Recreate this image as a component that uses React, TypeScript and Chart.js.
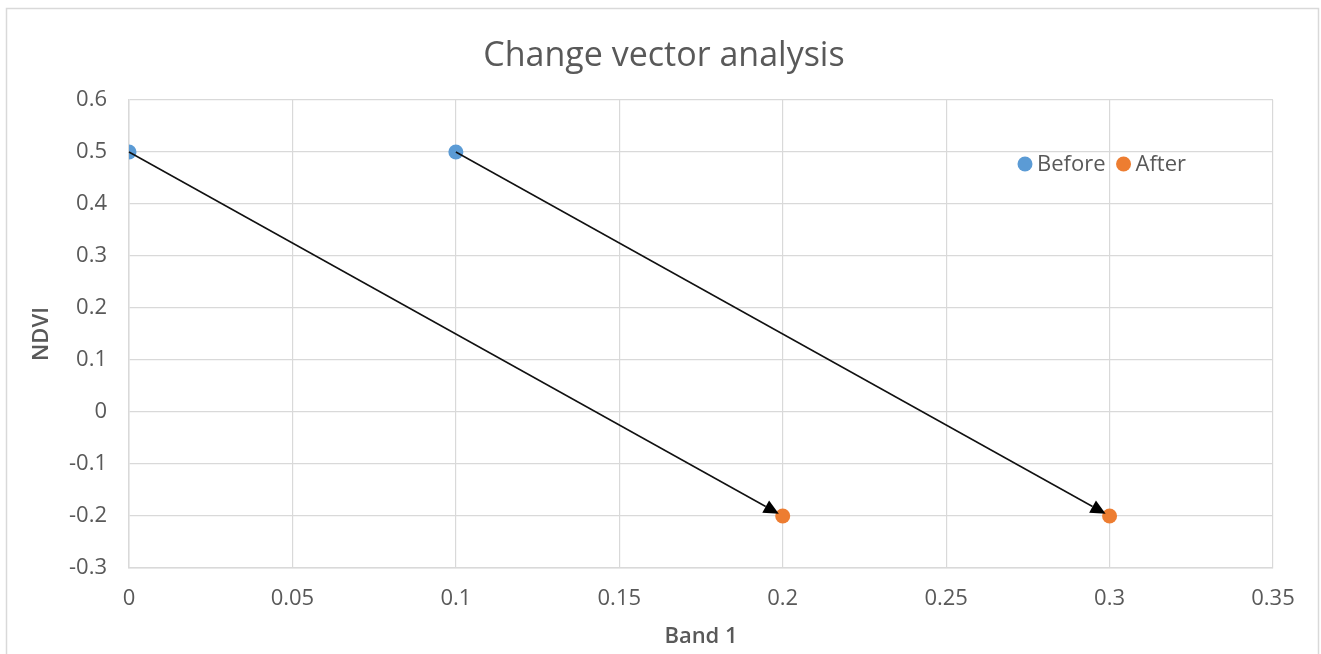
import React, { useEffect, useRef } from "react";
import { Chart, registerables } from "chart.js";

Chart.register(...registerables);

const chartTitle = "Change vector analysis";
const xAxisTitle = "Band 1";
const yAxisTitle = "NDVI";
const seriesNames = ["Before", "After"];
const seriesColors = ["#5b9bd5", "#ed7d31"];
const beforeX = [0, 0.1];
const beforeY = [0.5, 0.5];
const afterX = [0.2, 0.3];
const afterY = [-0.2, -0.2];
const xMin = 0;
const xMax = 0.35;
const xStep = 0.05;
const yMin = -0.3;
const yMax = 0.6;
const yStep = 0.1;

const FONT = "'Open Sans', 'Noto Sans', sans-serif";
const TEXT = "#595959";
const GRID = "#d9d9d9";

const fmt = (v: number) => String(Number(Number(v).toFixed(2)));

const decorPlugin = {
  id: "decor",
  beforeDraw(chart: any) {
    const ctx = chart.ctx;
    ctx.save();
    ctx.fillStyle = "#ffffff";
    ctx.fillRect(0, 0, chart.width, chart.height);
    ctx.strokeStyle = "#d9d9d9";
    ctx.lineWidth = 1.5;
    ctx.strokeRect(6.5, 8.5, 1312, 700);
    ctx.restore();
  },
  afterDatasetsDraw(chart: any) {
    const ctx = chart.ctx;
    const xs = chart.scales.x;
    const ys = chart.scales.y;
    ctx.save();
    for (let i = 0; i < beforeX.length; i++) {
      const x0 = xs.getPixelForValue(beforeX[i]);
      const y0 = ys.getPixelForValue(beforeY[i]);
      const x1 = xs.getPixelForValue(afterX[i]);
      const y1 = ys.getPixelForValue(afterY[i]);
      const dx = x1 - x0;
      const dy = y1 - y0;
      const len = Math.hypot(dx, dy);
      const ux = dx / len;
      const uy = dy / len;
      const tipX = x1 - ux * 4.5;
      const tipY = y1 - uy * 4.5;
      const head = 15;
      const half = 7;
      const bx = tipX - ux * head;
      const by = tipY - uy * head;
      ctx.strokeStyle = "#111111";
      ctx.lineWidth = 1.5;
      ctx.beginPath();
      ctx.moveTo(x0, y0);
      ctx.lineTo(bx, by);
      ctx.stroke();
      ctx.fillStyle = "#000000";
      ctx.beginPath();
      ctx.moveTo(tipX, tipY);
      ctx.lineTo(bx - uy * half, by + ux * half);
      ctx.lineTo(bx + uy * half, by - ux * half);
      ctx.closePath();
      ctx.fill();
    }
    ctx.restore();
  },
  afterDraw(chart: any) {
    const ctx = chart.ctx;
    ctx.save();
    // title
    ctx.fillStyle = TEXT;
    ctx.font = `34px ${FONT}`;
    ctx.textAlign = "center";
    ctx.textBaseline = "middle";
    ctx.fillText(chartTitle, 664, 56);
    // axis titles
    ctx.font = `600 22px ${FONT}`;
    ctx.fillText(xAxisTitle, 701, 637);
    ctx.save();
    ctx.translate(42, 334);
    ctx.rotate(-Math.PI / 2);
    ctx.fillText(yAxisTitle, 0, 0);
    ctx.restore();
    // legend
    ctx.font = `22px ${FONT}`;
    ctx.textAlign = "left";
    let x = 1025;
    const y = 164;
    for (let i = 0; i < seriesNames.length; i++) {
      ctx.fillStyle = seriesColors[i];
      ctx.beginPath();
      ctx.arc(x, y, 7.5, 0, Math.PI * 2);
      ctx.fill();
      ctx.fillStyle = TEXT;
      ctx.fillText(seriesNames[i], x + 12, y + 1);
      x += 12 + ctx.measureText(seriesNames[i]).width + 18;
    }
    ctx.restore();
  },
};

export default function App() {
  const ref = useRef<HTMLCanvasElement | null>(null);
  useEffect(() => {
    document.body.style.margin = "0";
    const canvas = ref.current;
    if (!canvas) return;
    const chart = new Chart(canvas, {
      type: "scatter",
      data: {
        datasets: [
          {
            label: seriesNames[0],
            data: beforeX.map((x, i) => ({ x, y: beforeY[i] })),
            backgroundColor: seriesColors[0],
            borderWidth: 0,
            pointRadius: 7.5,
          },
          {
            label: seriesNames[1],
            data: afterX.map((x, i) => ({ x, y: afterY[i] })),
            backgroundColor: seriesColors[1],
            borderWidth: 0,
            pointRadius: 7.5,
          },
        ],
      },
      options: {
        responsive: false,
        animation: false,
        devicePixelRatio: 1,
        layout: { padding: { top: 100, right: 48, left: 0, bottom: 0 } },
        plugins: {
          legend: { display: false },
          title: { display: false },
          tooltip: { enabled: false },
        },
        scales: {
          x: {
            type: "linear",
            min: xMin,
            max: xMax,
            ticks: {
              stepSize: xStep,
              color: TEXT,
              font: { family: FONT, size: 22 },
              padding: 18,
              maxRotation: 0,
              callback: (v: any) => fmt(v),
            },
            grid: { color: GRID, drawTicks: false, lineWidth: 1.2 },
            border: { color: GRID, width: 1.5 },
            afterFit: (s: any) => {
              s.height = 86;
            },
          },
          y: {
            type: "linear",
            min: yMin,
            max: yMax,
            ticks: {
              stepSize: yStep,
              color: TEXT,
              font: { family: FONT, size: 22 },
              padding: 22,
              callback: (v: any) => fmt(v),
            },
            grid: { color: GRID, drawTicks: false, lineWidth: 1.2 },
            border: { color: GRID, width: 1.5 },
            afterFit: (s: any) => {
              s.width = 129;
            },
          },
        },
      },
      plugins: [decorPlugin],
    } as any);
    return () => chart.destroy();
  }, []);
  return (
    <div style={{ width: 1321, height: 654, position: "relative" }}>
      <canvas ref={ref} width={1321} height={654} style={{ width: 1321, height: 654, display: "block" }} />
    </div>
  );
}
